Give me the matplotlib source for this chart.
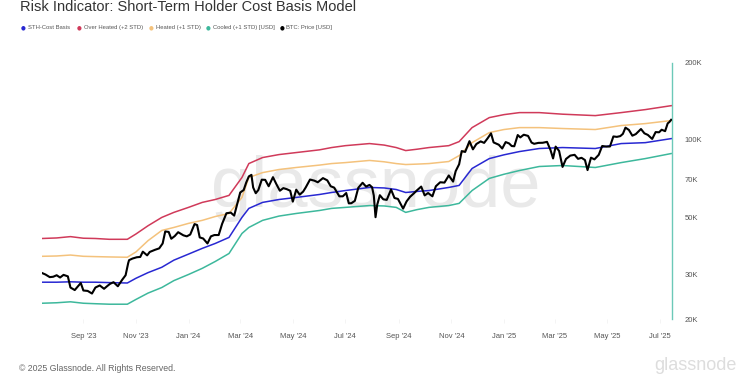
import matplotlib
matplotlib.use("Agg")
import matplotlib.pyplot as plt
import matplotlib.dates as mdates
import numpy as np
import pandas as pd

plt.rcParams["font.family"] = ["Liberation Sans", "DejaVu Sans"]

TITLE = "Risk Indicator: Short-Term Holder Cost Basis Model"

# band series (USD thousands)
band_dates = [
    "2023-07-15", "2023-08-01", "2023-08-17", "2023-09-01", "2023-09-15",
    "2023-10-01", "2023-10-22", "2023-11-01", "2023-11-15", "2023-12-01",
    "2023-12-15", "2024-01-01", "2024-01-17", "2024-02-01", "2024-02-17",
    "2024-03-03", "2024-03-11", "2024-03-27", "2024-04-15", "2024-05-05",
    "2024-06-01", "2024-06-15", "2024-07-01", "2024-07-29", "2024-08-15",
    "2024-08-29", "2024-09-09", "2024-09-22", "2024-10-06", "2024-10-29",
    "2024-11-10", "2024-11-25", "2024-12-15", "2025-01-01", "2025-01-19",
    "2025-02-11", "2025-03-10", "2025-04-17", "2025-05-17", "2025-06-14",
    "2025-07-14",
]
over_heated = [
    41.3, 41.5, 42.0, 41.4, 41.3, 41.0, 41.0, 43.0, 46.3, 49.9,
    52.2, 54.6, 57.1, 58.6, 60.8, 71.4, 80.9, 85.4, 87.7, 89.3,
    91.5, 93.4, 95.0, 96.8, 95.5, 93.4, 90.9, 92.0, 93.4, 95.0,
    98.5, 111.7, 122.2, 125.5, 127.8, 127.8, 126.0, 124.4, 127.8, 131.3,
    136.0,
]
heated = [
    35.2, 35.3, 35.6, 35.2, 35.1, 35.0, 34.9, 36.6, 40.5, 44.4,
    45.6, 47.3, 48.6, 50.3, 51.7, 59.7, 71.4, 74.6, 76.7, 78.1,
    79.8, 80.9, 81.6, 83.2, 82.2, 80.9, 80.2, 80.5, 80.9, 82.4,
    86.9, 97.6, 106.8, 109.8, 111.7, 111.7, 110.8, 109.8, 113.8, 115.8,
    119.0,
]
sth_cost_basis = [
    27.9, 27.9, 28.0, 27.9, 27.9, 27.8, 27.7, 28.9, 30.4, 31.9,
    34.0, 35.9, 37.8, 39.5, 41.7, 49.9, 54.1, 57.1, 58.6, 59.7,
    61.3, 62.4, 63.5, 65.3, 65.0, 64.1, 62.4, 63.0, 63.5, 65.3,
    66.5, 77.4, 84.6, 87.5, 90.1, 92.6, 93.4, 92.6, 96.8, 97.6,
    101.2,
]
cooled = [
    23.1, 23.2, 23.4, 23.1, 23.0, 22.9, 22.9, 23.9, 25.3, 26.6,
    28.3, 29.9, 31.6, 33.6, 36.1, 43.2, 45.6, 48.6, 50.5, 51.7,
    53.1, 54.1, 54.6, 55.5, 55.3, 54.6, 52.2, 53.5, 54.6, 55.5,
    56.6, 63.5, 70.8, 73.5, 76.0, 78.8, 79.5, 78.1, 81.6, 84.6,
    88.5,
]

# BTC price (USD thousands)
price_dates = [
    "2023-07-15", "2023-07-19", "2023-07-24", "2023-07-28", "2023-08-01",
    "2023-08-05", "2023-08-09", "2023-08-14", "2023-08-17", "2023-08-22",
    "2023-08-29", "2023-09-01", "2023-09-06", "2023-09-11", "2023-09-15",
    "2023-09-20", "2023-09-25", "2023-09-29", "2023-10-02", "2023-10-06",
    "2023-10-11", "2023-10-16", "2023-10-20", "2023-10-23", "2023-10-24",
    "2023-10-28", "2023-11-02", "2023-11-06", "2023-11-09", "2023-11-14",
    "2023-11-17", "2023-11-23", "2023-11-28", "2023-12-02", "2023-12-05",
    "2023-12-09", "2023-12-12", "2023-12-16", "2023-12-20", "2023-12-26",
    "2023-12-30", "2024-01-03", "2024-01-08", "2024-01-11", "2024-01-14",
    "2024-01-18", "2024-01-23", "2024-01-27", "2024-01-31", "2024-02-05",
    "2024-02-09", "2024-02-14", "2024-02-19", "2024-02-23", "2024-02-27",
    "2024-03-01", "2024-03-05", "2024-03-08", "2024-03-11", "2024-03-14",
    "2024-03-16", "2024-03-19", "2024-03-22", "2024-03-26", "2024-03-30",
    "2024-04-03", "2024-04-08", "2024-04-12", "2024-04-16", "2024-04-20",
    "2024-04-24", "2024-04-28", "2024-05-01", "2024-05-05", "2024-05-09",
    "2024-05-13", "2024-05-16", "2024-05-21", "2024-05-26", "2024-05-30",
    "2024-06-05", "2024-06-10", "2024-06-14", "2024-06-18", "2024-06-24",
    "2024-06-28", "2024-07-02", "2024-07-05", "2024-07-08", "2024-07-12",
    "2024-07-16", "2024-07-21", "2024-07-25", "2024-07-29", "2024-08-01",
    "2024-08-03", "2024-08-05", "2024-08-07", "2024-08-10", "2024-08-14",
    "2024-08-18", "2024-08-23", "2024-08-27", "2024-08-31", "2024-09-06",
    "2024-09-10", "2024-09-14", "2024-09-18", "2024-09-22", "2024-09-27",
    "2024-10-01", "2024-10-05", "2024-10-10", "2024-10-14", "2024-10-19",
    "2024-10-24", "2024-10-29", "2024-11-03", "2024-11-06", "2024-11-10",
    "2024-11-13", "2024-11-17", "2024-11-22", "2024-11-26", "2024-11-30",
    "2024-12-05", "2024-12-09", "2024-12-13", "2024-12-17", "2024-12-20",
    "2024-12-26", "2024-12-30", "2025-01-03", "2025-01-07", "2025-01-10",
    "2025-01-13", "2025-01-17", "2025-01-20", "2025-01-24", "2025-01-29",
    "2025-02-02", "2025-02-05", "2025-02-10", "2025-02-15", "2025-02-20",
    "2025-02-24", "2025-02-27", "2025-03-02", "2025-03-06", "2025-03-10",
    "2025-03-14", "2025-03-19", "2025-03-24", "2025-03-28", "2025-04-01",
    "2025-04-05", "2025-04-08", "2025-04-12", "2025-04-16", "2025-04-21",
    "2025-04-25", "2025-04-30", "2025-05-04", "2025-05-08", "2025-05-12",
    "2025-05-16", "2025-05-19", "2025-05-22", "2025-05-26", "2025-05-30",
    "2025-06-03", "2025-06-09", "2025-06-13", "2025-06-17", "2025-06-22",
    "2025-06-26", "2025-06-30", "2025-07-03", "2025-07-07", "2025-07-10",
    "2025-07-12", "2025-07-14",
]
btc_price = [
    30.3, 29.9, 29.2, 29.3, 29.7, 29.1, 29.8, 29.4, 26.6, 26.0,
    27.7, 25.9, 25.8, 25.2, 26.6, 27.1, 26.3, 27.0, 27.5, 27.9,
    26.9, 28.5, 29.7, 33.1, 34.0, 34.5, 34.9, 35.0, 36.7, 35.5,
    36.6, 37.3, 37.8, 39.5, 44.0, 43.8, 41.2, 42.2, 43.7, 42.5,
    42.1, 42.8, 47.0, 46.6, 41.7, 41.3, 39.5, 42.1, 42.6, 42.6,
    47.1, 51.8, 52.1, 50.7, 57.0, 62.4, 63.8, 68.3, 72.1, 73.1,
    65.3, 62.0, 63.8, 70.0, 69.9, 66.0, 71.6, 67.2, 63.4, 64.9,
    64.3, 63.4, 57.5, 64.0, 61.2, 62.9, 65.3, 70.1, 69.4, 68.4,
    71.0, 69.6, 66.0, 65.2, 60.3, 60.3, 62.1, 56.6, 56.7, 57.9,
    65.1, 68.1, 65.8, 66.8, 65.4, 60.7, 50.0, 56.0, 60.9, 58.7,
    58.4, 64.1, 59.4, 58.9, 54.0, 57.6, 60.0, 61.7, 63.6, 65.8,
    60.8, 62.1, 60.3, 66.0, 68.4, 68.2, 72.7, 68.8, 75.6, 80.4,
    90.5, 89.8, 98.9, 91.9, 96.4, 98.7, 97.4, 101.4, 106.1, 97.8,
    95.8, 92.6, 98.1, 96.9, 94.7, 94.5, 104.5, 102.3, 104.8, 103.7,
    97.7, 96.6, 97.4, 97.5, 98.3, 91.4, 84.7, 94.2, 90.6, 78.5,
    84.3, 86.9, 87.5, 84.4, 85.2, 83.5, 76.3, 85.3, 84.0, 87.5,
    94.7, 94.2, 94.3, 103.2, 102.8, 103.5, 105.6, 111.7, 109.4, 103.9,
    105.4, 110.3, 106.1, 104.6, 100.9, 107.3, 107.1, 109.6, 108.2, 116.0,
    117.5, 119.8,
]

series_labels = ["STH-Cost Basis", "Over Heated (+2 STD)", "Heated (+1 STD)",
                 "Cooled (+1 STD) [USD]", "BTC: Price [USD]"]
series_colors = ["#2828d2", "#d03a5a", "#f4c27c", "#3db89c", "#000000"]

y_ticks = [20000, 30000, 50000, 70000, 100000, 200000]
y_tick_labels = ["20K", "30K", "50K", "70K", "100K", "200K"]


def main():
    W, H = 750, 375
    fig = plt.figure(figsize=(7.5, 3.75), dpi=100)
    fig.patch.set_facecolor("white")
    ax = fig.add_axes([42 / W, 1 - 319.3 / H, 630 / W, 256.6 / H])

    bd = pd.to_datetime(band_dates)
    pdt = pd.to_datetime(price_dates)
    bands = [sth_cost_basis, over_heated, heated, cooled]
    for vals, col in zip(bands, series_colors[:4]):
        ax.plot(bd, np.array(vals) * 1000, color=col, lw=1.1, zorder=3)
    ax.plot(pdt, np.array(btc_price) * 1000, color="black", lw=1.5, zorder=4)

    ax.set_yscale("log")
    ax.set_ylim(20000, 200000)
    ax.set_xlim(pd.Timestamp("2023-07-15"), pd.Timestamp("2025-07-15"))

    ax.yaxis.tick_right()
    ax.set_yticks(y_ticks)
    ax.set_yticklabels(y_tick_labels)
    ax.yaxis.set_minor_locator(matplotlib.ticker.NullLocator())
    ax.tick_params(axis="y", length=0, pad=9, labelsize=5.5, labelcolor="#555555")

    ax.xaxis.set_major_locator(mdates.MonthLocator(bymonth=[1, 3, 5, 7, 9, 11]))
    ax.xaxis.set_major_formatter(mdates.DateFormatter("%b '%y"))
    ax.tick_params(axis="x", length=3, width=0.5, color="#f0f0f0", pad=7,
                   labelsize=5.5, labelcolor="#555555")

    for s in ["top", "left", "bottom"]:
        ax.spines[s].set_visible(False)
    ax.spines["right"].set_color("#6cc9b8")
    ax.spines["right"].set_linewidth(1.0)

    # watermark
    ax.text(0.5 * (212 + 540) / W, 1 - 189 / H, "glassnode", transform=fig.transFigure,
            ha="center", va="center", fontsize=52, color="#e9e9e9", zorder=0)

    # title (kept just inside the top edge)
    fig.text(20 / W, 1 - 11 / H, TITLE, ha="left", va="baseline",
             fontsize=10.5, color="#333333")

    # legend row
    dot_x = [23.5, 79, 151, 208.5, 282]
    for x, lab, col in zip(dot_x, series_labels, series_colors):
        fig.text(x / W, 1 - 27.7 / H, "\u25cf", ha="center", va="center",
                 fontsize=4, color=col, family="DejaVu Sans")
        fig.text((x + 4.5) / W, 1 - 27.7 / H, lab, ha="left", va="center",
                 fontsize=4.2, color="#555555")

    # footer
    fig.text(19 / W, 2 / H, "\u00a9 2025 Glassnode. All Rights Reserved.",
             ha="left", va="bottom", fontsize=6.3, color="#666666")
    fig.text(737 / W, 1.5 / H, "glassnode", ha="right", va="bottom",
             fontsize=13, color="#dddddd")

    fig.savefig("out.png", dpi=100)
    plt.close(fig)


if __name__ == "__main__":
    main()
